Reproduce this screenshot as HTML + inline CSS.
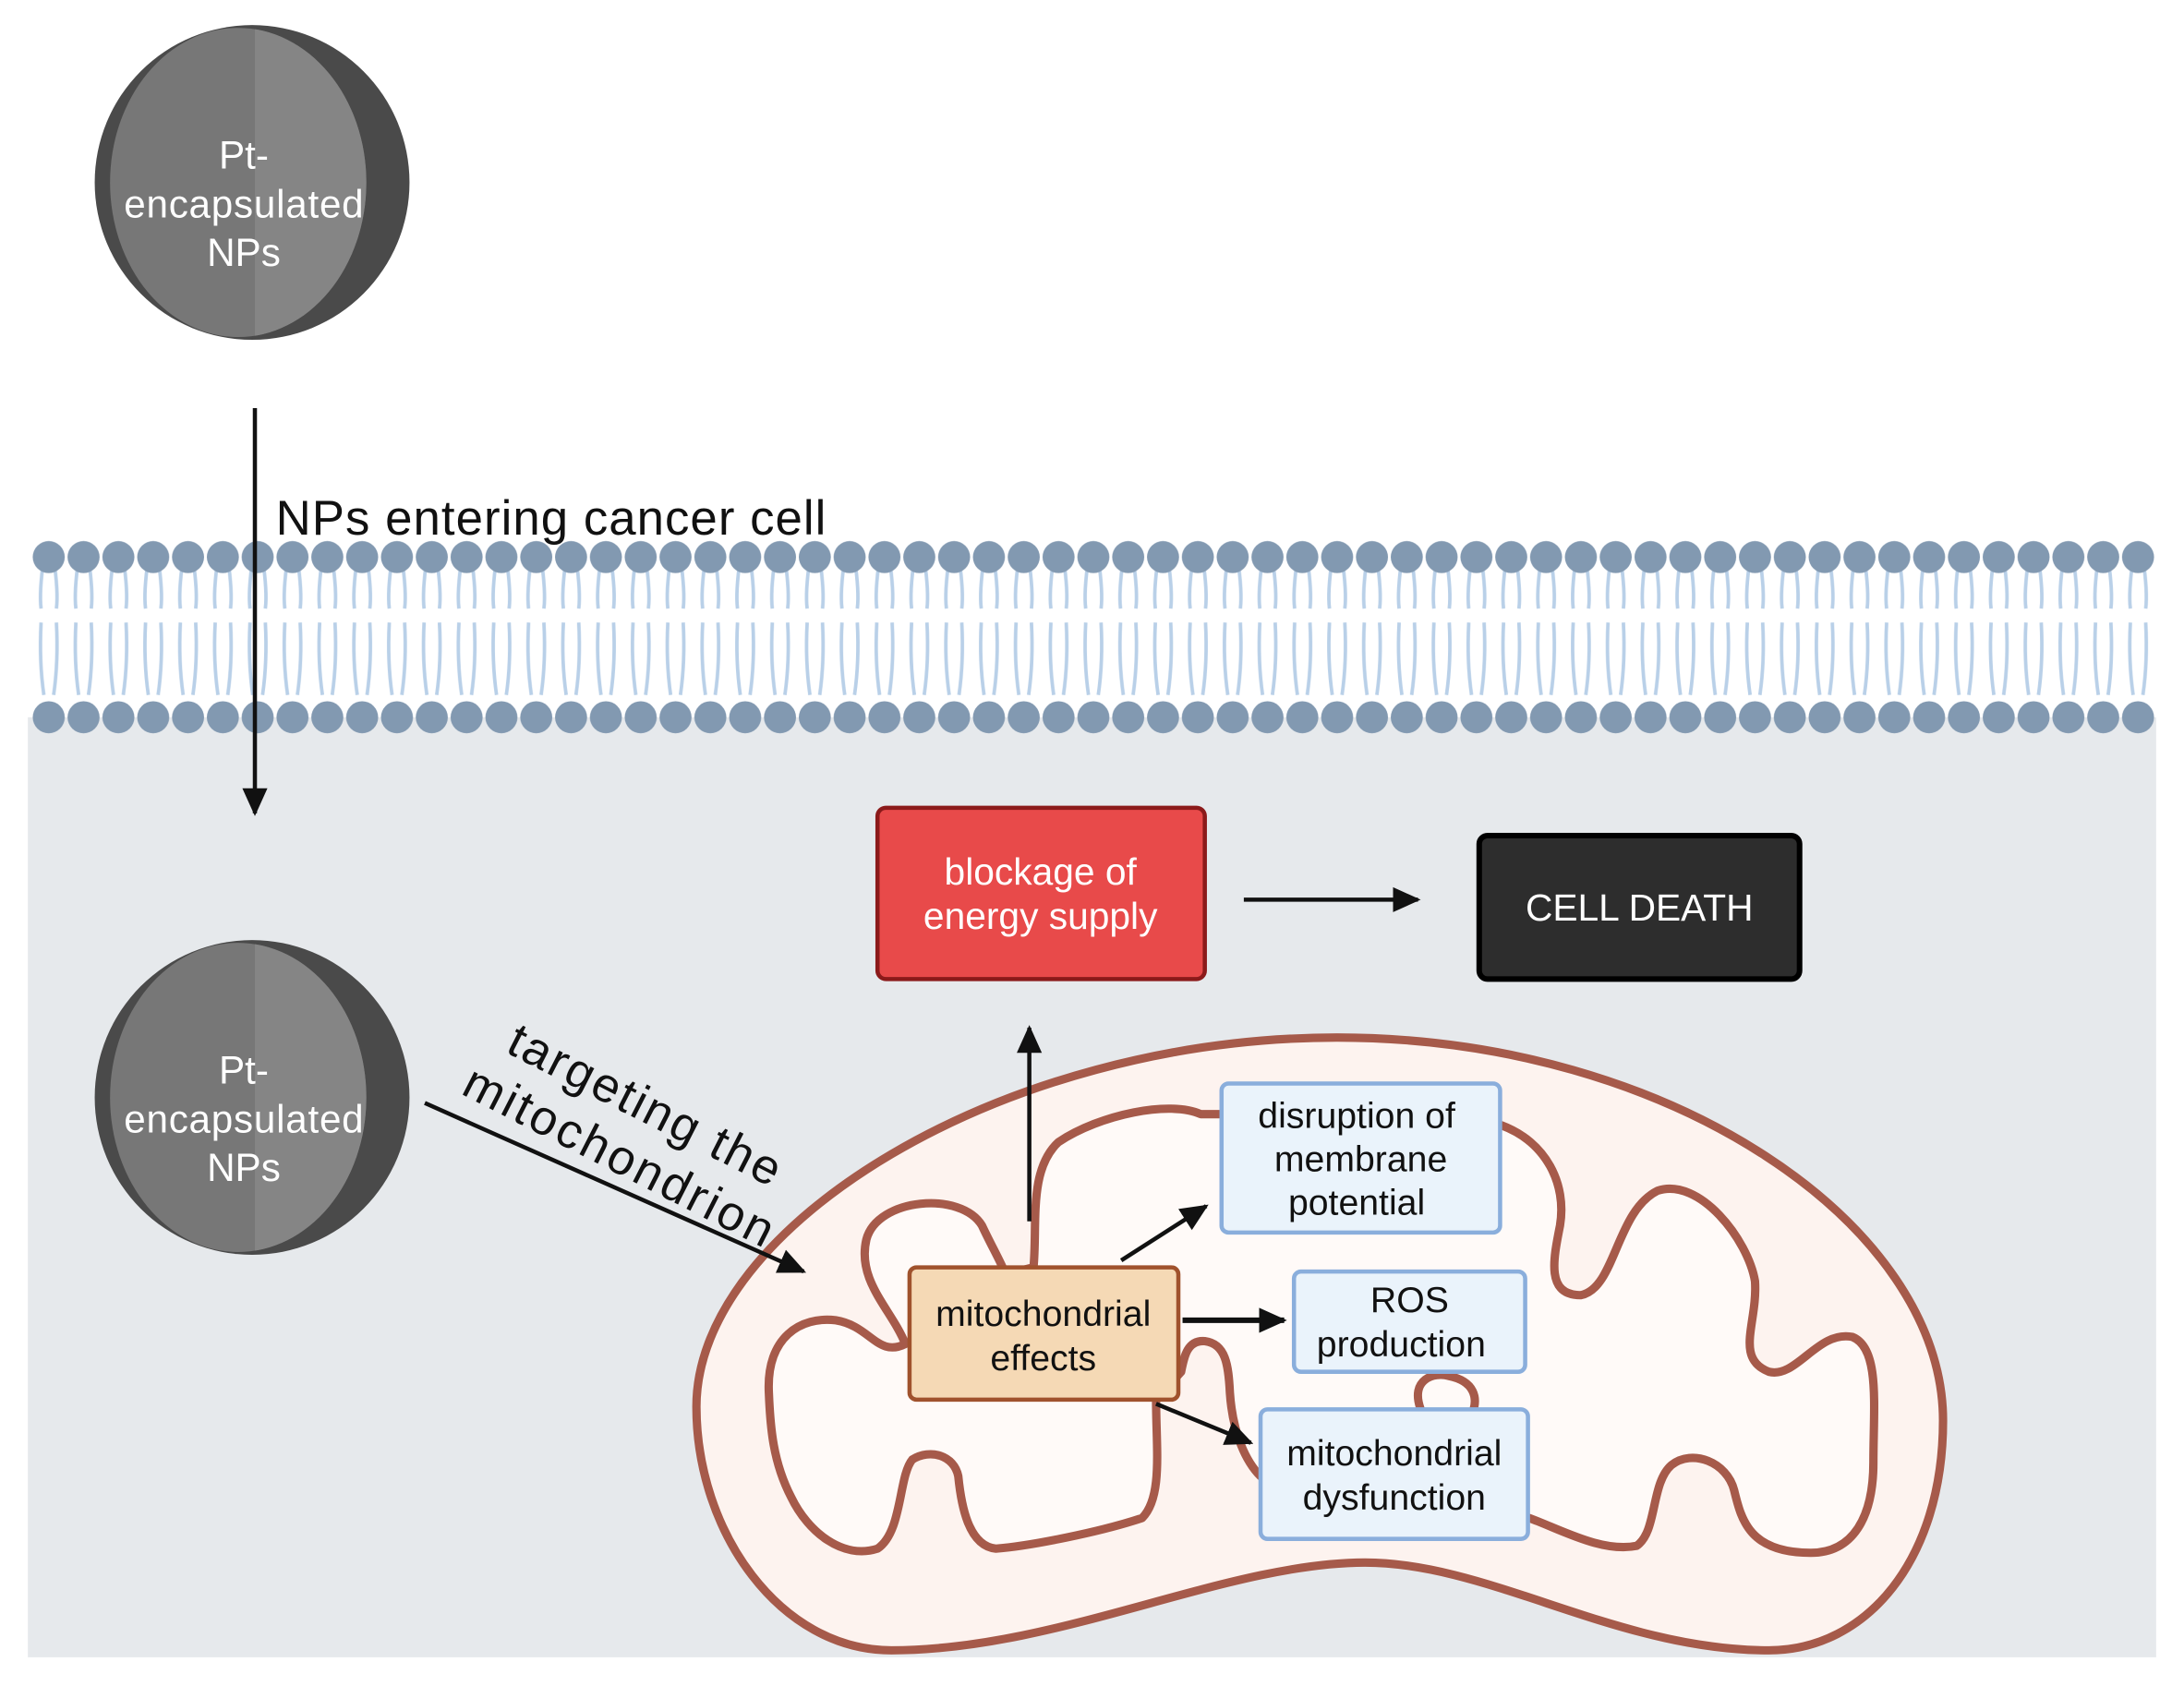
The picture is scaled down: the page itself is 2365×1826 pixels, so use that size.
<!DOCTYPE html>
<html><head><meta charset="utf-8"><style>
html,body{margin:0;padding:0;background:#fff;}
svg{display:block;}
text{font-family:"Liberation Sans",sans-serif;}
</style></head><body>
<svg width="2365" height="1826" viewBox="0 0 1568 1210.6" xmlns="http://www.w3.org/2000/svg">
<defs>
<pattern id="lip" x="22.5" y="385" width="25" height="145" patternUnits="userSpaceOnUse">
  <path d="M9 16 Q5.5 40 7 52 M16 16 Q19.5 40 18 52 M7 62 Q5.5 90 9 114 M18 62 Q19.5 90 16 114" stroke="#b9d0e8" stroke-width="2.5" fill="none"/>
  <circle cx="12.5" cy="15" r="11.5" fill="#8299b1"/>
  <circle cx="12.5" cy="130" r="11.5" fill="#8299b1"/>
</pattern>
<marker id="ah2" markerWidth="20" markerHeight="20" refX="18" refY="10" orient="auto" markerUnits="userSpaceOnUse" viewBox="0 0 20 20">
  <path d="M0 1 L20 10 L0 19 Z" fill="#111"/>
</marker>
<clipPath id="rh"><rect x="183" y="0" width="200" height="1210"/></clipPath>
</defs>

<rect x="20" y="515" width="1528" height="675" fill="#e6e9ec"/>
<rect x="22.5" y="385" width="1525" height="145" fill="url(#lip)"/>

<g>
<circle cx="181" cy="131" r="113" fill="#4a4a4a"/>
<ellipse cx="171" cy="131" rx="92" ry="111" fill="#777"/>
<ellipse cx="171" cy="131" rx="92" ry="111" fill="#858585" clip-path="url(#rh)"/>
<text x="175" y="121" font-size="28" fill="#fff" text-anchor="middle">Pt-</text>
<text x="175" y="156" font-size="28" fill="#fff" text-anchor="middle" textLength="172">encapsulated</text>
<text x="175" y="191" font-size="28" fill="#fff" text-anchor="middle">NPs</text>
</g>
<g transform="translate(0,657)">
<circle cx="181" cy="131" r="113" fill="#4a4a4a"/>
<ellipse cx="171" cy="131" rx="92" ry="111" fill="#777"/>
<ellipse cx="171" cy="131" rx="92" ry="111" fill="#858585" clip-path="url(#rh)"/>
<text x="175" y="121" font-size="28" fill="#fff" text-anchor="middle">Pt-</text>
<text x="175" y="156" font-size="28" fill="#fff" text-anchor="middle" textLength="172">encapsulated</text>
<text x="175" y="191" font-size="28" fill="#fff" text-anchor="middle">NPs</text>
</g>

<line x1="183" y1="293" x2="183" y2="584" stroke="#111" stroke-width="3" marker-end="url(#ah2)"/>
<text x="198" y="384" font-size="35" fill="#111" textLength="395">NPs entering cancer cell</text>

<path d="M960 745 C1200 745 1395 880 1395 1020 C1395 1120 1340 1185 1270 1185 C1160 1185 1070 1122 980 1122 C880 1122 760 1185 640 1185 C560 1185 500 1100 500 1010 C500 880 720 745 960 745 Z" fill="#fdf3ef" stroke="#a65a4a" stroke-width="6"/>
<path d="M552 1000 C550 960 575 945 600 948 C625 952 630 975 650 965 C640 940 615 920 622 890 C630 860 690 855 705 880 C712 895 718 905 722 915 L742 910 C745 880 738 840 760 820 C790 800 840 790 862 800 L878 800 L1078 808 C1110 820 1125 850 1120 880 C1115 905 1110 930 1135 930 C1160 925 1160 870 1190 855 C1220 845 1255 890 1260 920 C1262 950 1245 975 1270 985 C1290 990 1305 955 1330 960 C1350 968 1345 1010 1345 1050 C1345 1090 1330 1115 1300 1115 C1255 1115 1250 1090 1245 1070 C1240 1050 1215 1040 1200 1052 C1185 1065 1190 1100 1175 1110 C1150 1115 1120 1098 1098 1090 L905 1060 C895 1050 885 1030 883 1000 C882 980 880 965 865 963 C852 962 850 975 848 985 L830 1005 C830 1040 835 1075 820 1090 C790 1100 740 1110 715 1112 C695 1110 690 1080 688 1060 C685 1045 668 1040 655 1048 C645 1060 648 1100 630 1112 C605 1120 580 1100 568 1075 C555 1050 553 1025 552 1000 Z" fill="#fffaf8" stroke="#a65a4a" stroke-width="6" stroke-linejoin="round"/>
<path d="M1020 1012 C1012 990 1030 985 1040 988 C1060 992 1060 1005 1058 1012" fill="none" stroke="#a65a4a" stroke-width="6"/>

<rect x="630" y="580" width="235" height="123" rx="6" fill="#e84a4a" stroke="#8b1a1a" stroke-width="3"/>
<text x="747" y="635" font-size="27" fill="#fff" text-anchor="middle">blockage of</text>
<text x="747" y="667" font-size="27" fill="#fff" text-anchor="middle">energy supply</text>

<rect x="1062" y="600" width="230" height="103" rx="6" fill="#2d2d2d" stroke="#000" stroke-width="4"/>
<text x="1177" y="661" font-size="27" fill="#fff" text-anchor="middle">CELL DEATH</text>
<line x1="893" y1="646" x2="1018" y2="646" stroke="#111" stroke-width="3" marker-end="url(#ah2)"/>

<rect x="653" y="910" width="193" height="95" rx="5" fill="#f5d9b5" stroke="#a0522d" stroke-width="3"/>
<text x="749" y="952" font-size="26" fill="#111" text-anchor="middle">mitochondrial</text>
<text x="749" y="984" font-size="26" fill="#111" text-anchor="middle">effects</text>

<rect x="877" y="778" width="200" height="107" rx="5" fill="#eaf3fb" stroke="#8aaedc" stroke-width="3"/>
<text x="974" y="810" font-size="26" fill="#111" text-anchor="middle">disruption of</text>
<text x="977" y="841" font-size="26" fill="#111" text-anchor="middle">membrane</text>
<text x="974" y="872" font-size="26" fill="#111" text-anchor="middle">potential</text>

<rect x="929" y="913" width="166" height="72" rx="5" fill="#eaf3fb" stroke="#8aaedc" stroke-width="3"/>
<text x="1012" y="942" font-size="26" fill="#111" text-anchor="middle">ROS</text>
<text x="1006" y="974" font-size="26" fill="#111" text-anchor="middle">production</text>

<rect x="905" y="1012" width="192" height="93" rx="5" fill="#eaf3fb" stroke="#8aaedc" stroke-width="3"/>
<text x="1001" y="1052" font-size="26" fill="#111" text-anchor="middle">mitochondrial</text>
<text x="1001" y="1084" font-size="26" fill="#111" text-anchor="middle">dysfunction</text>

<line x1="739" y1="877" x2="739" y2="738" stroke="#111" stroke-width="3" marker-end="url(#ah2)"/>
<line x1="805" y1="905" x2="866" y2="866" stroke="#111" stroke-width="3" marker-end="url(#ah2)"/>
<line x1="849" y1="948" x2="922" y2="948" stroke="#111" stroke-width="4" marker-end="url(#ah2)"/>
<line x1="830" y1="1008" x2="898" y2="1036" stroke="#111" stroke-width="3" marker-end="url(#ah2)"/>
<line x1="305" y1="792" x2="577" y2="913" stroke="#111" stroke-width="3" marker-end="url(#ah2)"/>

<text transform="translate(362,755) rotate(27)" font-size="35" fill="#111" textLength="215">targeting the</text>
<text transform="translate(330,785) rotate(27)" font-size="35" fill="#111" textLength="245">mitochondrion</text>
</svg>
</body></html>
